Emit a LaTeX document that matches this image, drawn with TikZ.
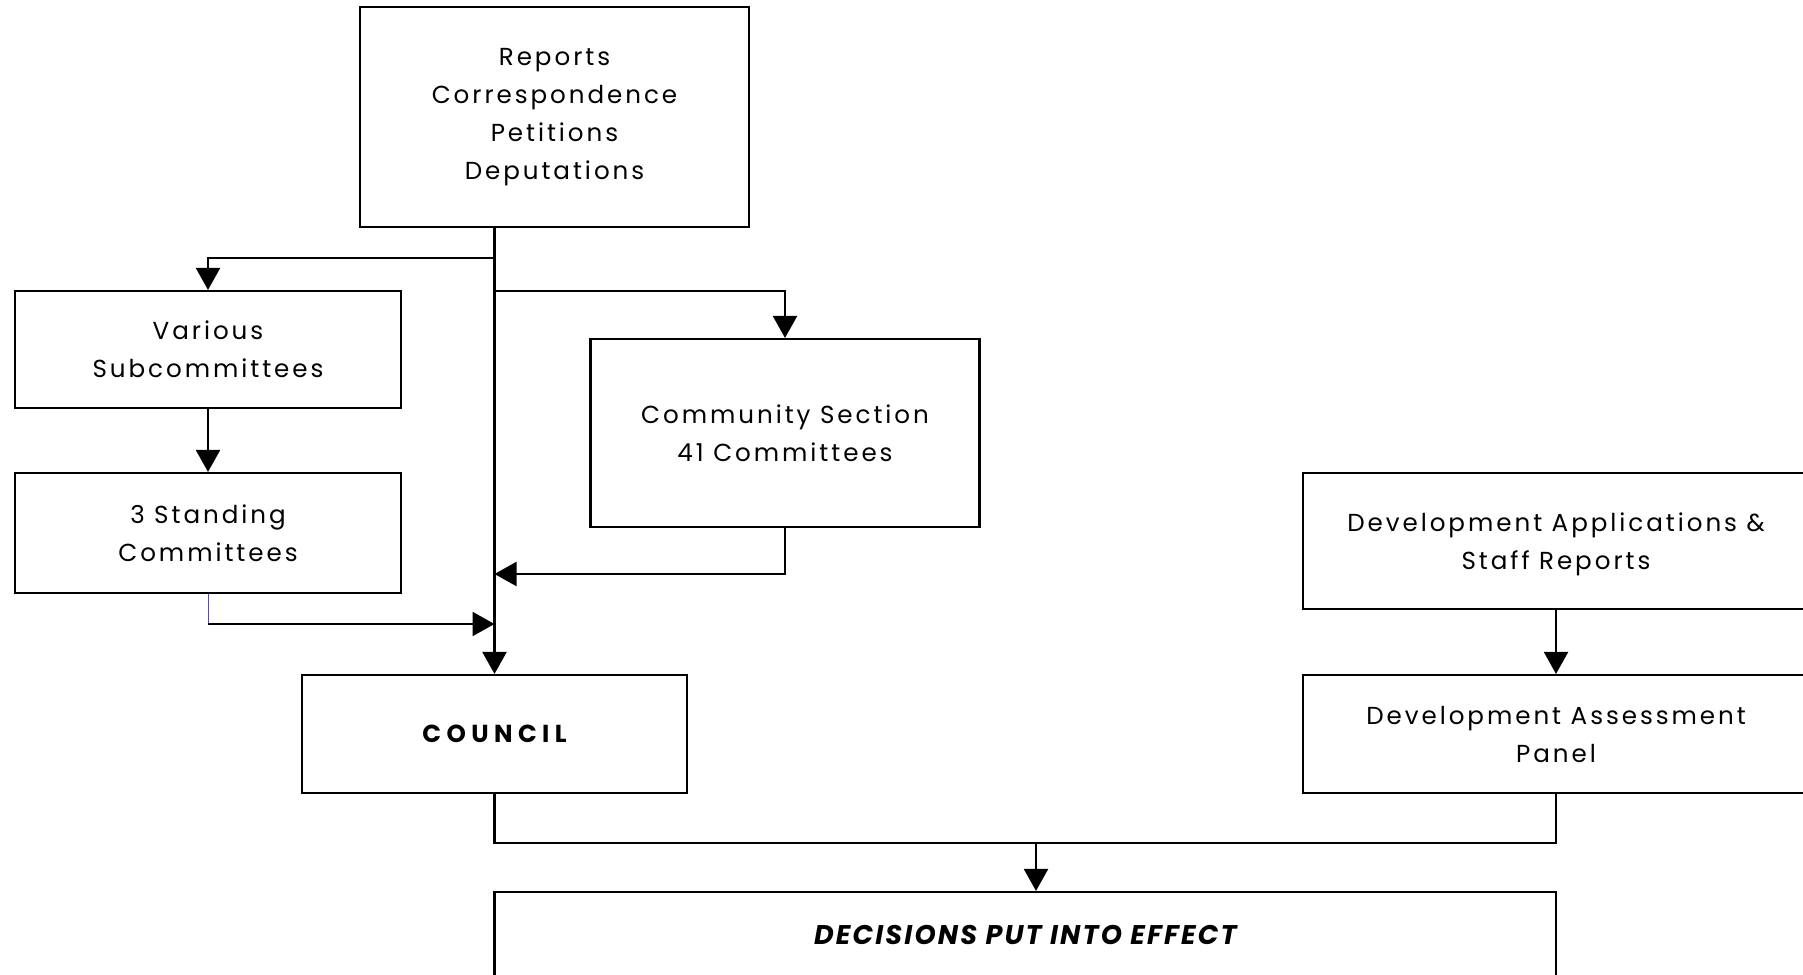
\documentclass[tikz,border=0pt]{standalone}
\usepackage{fontspec}
\setmainfont{Poppins}[LetterSpace=12]
\newfontfamily\decfont{Poppins}[LetterSpace=8]
\newfontfamily\councilfont{Poppins}[LetterSpace=22]
\usetikzlibrary{arrows.meta}
\definecolor{thinpurple}{RGB}{90,80,150}
\tikzset{
  box/.style={draw, line width=1.05pt, align=center, inner sep=0pt,
    font=\fontsize{12.3}{19}\selectfont},
  conn/.style={line width=1.05pt},
  arr/.style={line width=1.05pt, -{Triangle[length=11pt,width=12pt]}},
}
\begin{document}
\begin{tikzpicture}[x=0.5pt,y=-0.5pt]
\useasboundingbox (0,0) rectangle (1803,974);
\clip (0,0) rectangle (1803,974);

\node[box, minimum width=194.5pt, minimum height=110pt] (top) at (554.5,117)
  {Reports\\Correspondence\\Petitions\\Deputations};
\node[box, minimum width=193pt, minimum height=58.5pt] (various) at (208,349.5)
  {Various\\Subcommittees};
\node[box, minimum width=193pt, minimum height=60pt] (standing) at (208,533)
  {3 Standing\\Committees};
\node[box, minimum width=194.5pt, minimum height=94pt] (community) at (785,433)
  {Community Section\\41 Committees};
\node[box, minimum width=192.5pt, minimum height=59pt, font=\fontsize{12.3}{19}\councilfont\bfseries] (council) at (494.5,734)
  {COUNCIL};
\node[box, minimum width=253pt, minimum height=68pt, text depth=-6pt] (devapp) at (1556,541)
  {Development Applications \&\\Staff Reports};
\node[box, minimum width=253pt, minimum height=59pt] (dap) at (1556,734)
  {Development Assessment\\Panel};
\node[box, minimum width=530.75pt, minimum height=43pt, font=\fontsize{13.5}{19}\decfont\bfseries\itshape] (dec) at (1025.25,935)
  {DECISIONS PUT INTO EFFECT};

\coordinate (j1) at (494.5,258);
\coordinate (j2) at (494.5,291);
\coordinate (j3) at (494.5,574);
\coordinate (j4) at (494.5,624);
\coordinate (m) at (1036,843);

\draw[arr] (top.south -| council.north) -- (council.north);
\draw[arr] (j1) -| (various.north);
\draw[arr] (j2) -| (community.north);
\draw[arr] (various.south) -- (standing.north);
\draw[arr] (community.south) |- (j3);
\draw[line width=0.5pt, thinpurple] (standing.south) -- (standing.south |- j4);
\draw[arr] (standing.south |- j4) -- (j4);
\draw[arr] (devapp.south) -- (dap.north);
\draw[conn] (council.south) |- (m) -| (dap.south);
\draw[arr] (m) -- (m |- dec.north);
\end{tikzpicture}
\end{document}
